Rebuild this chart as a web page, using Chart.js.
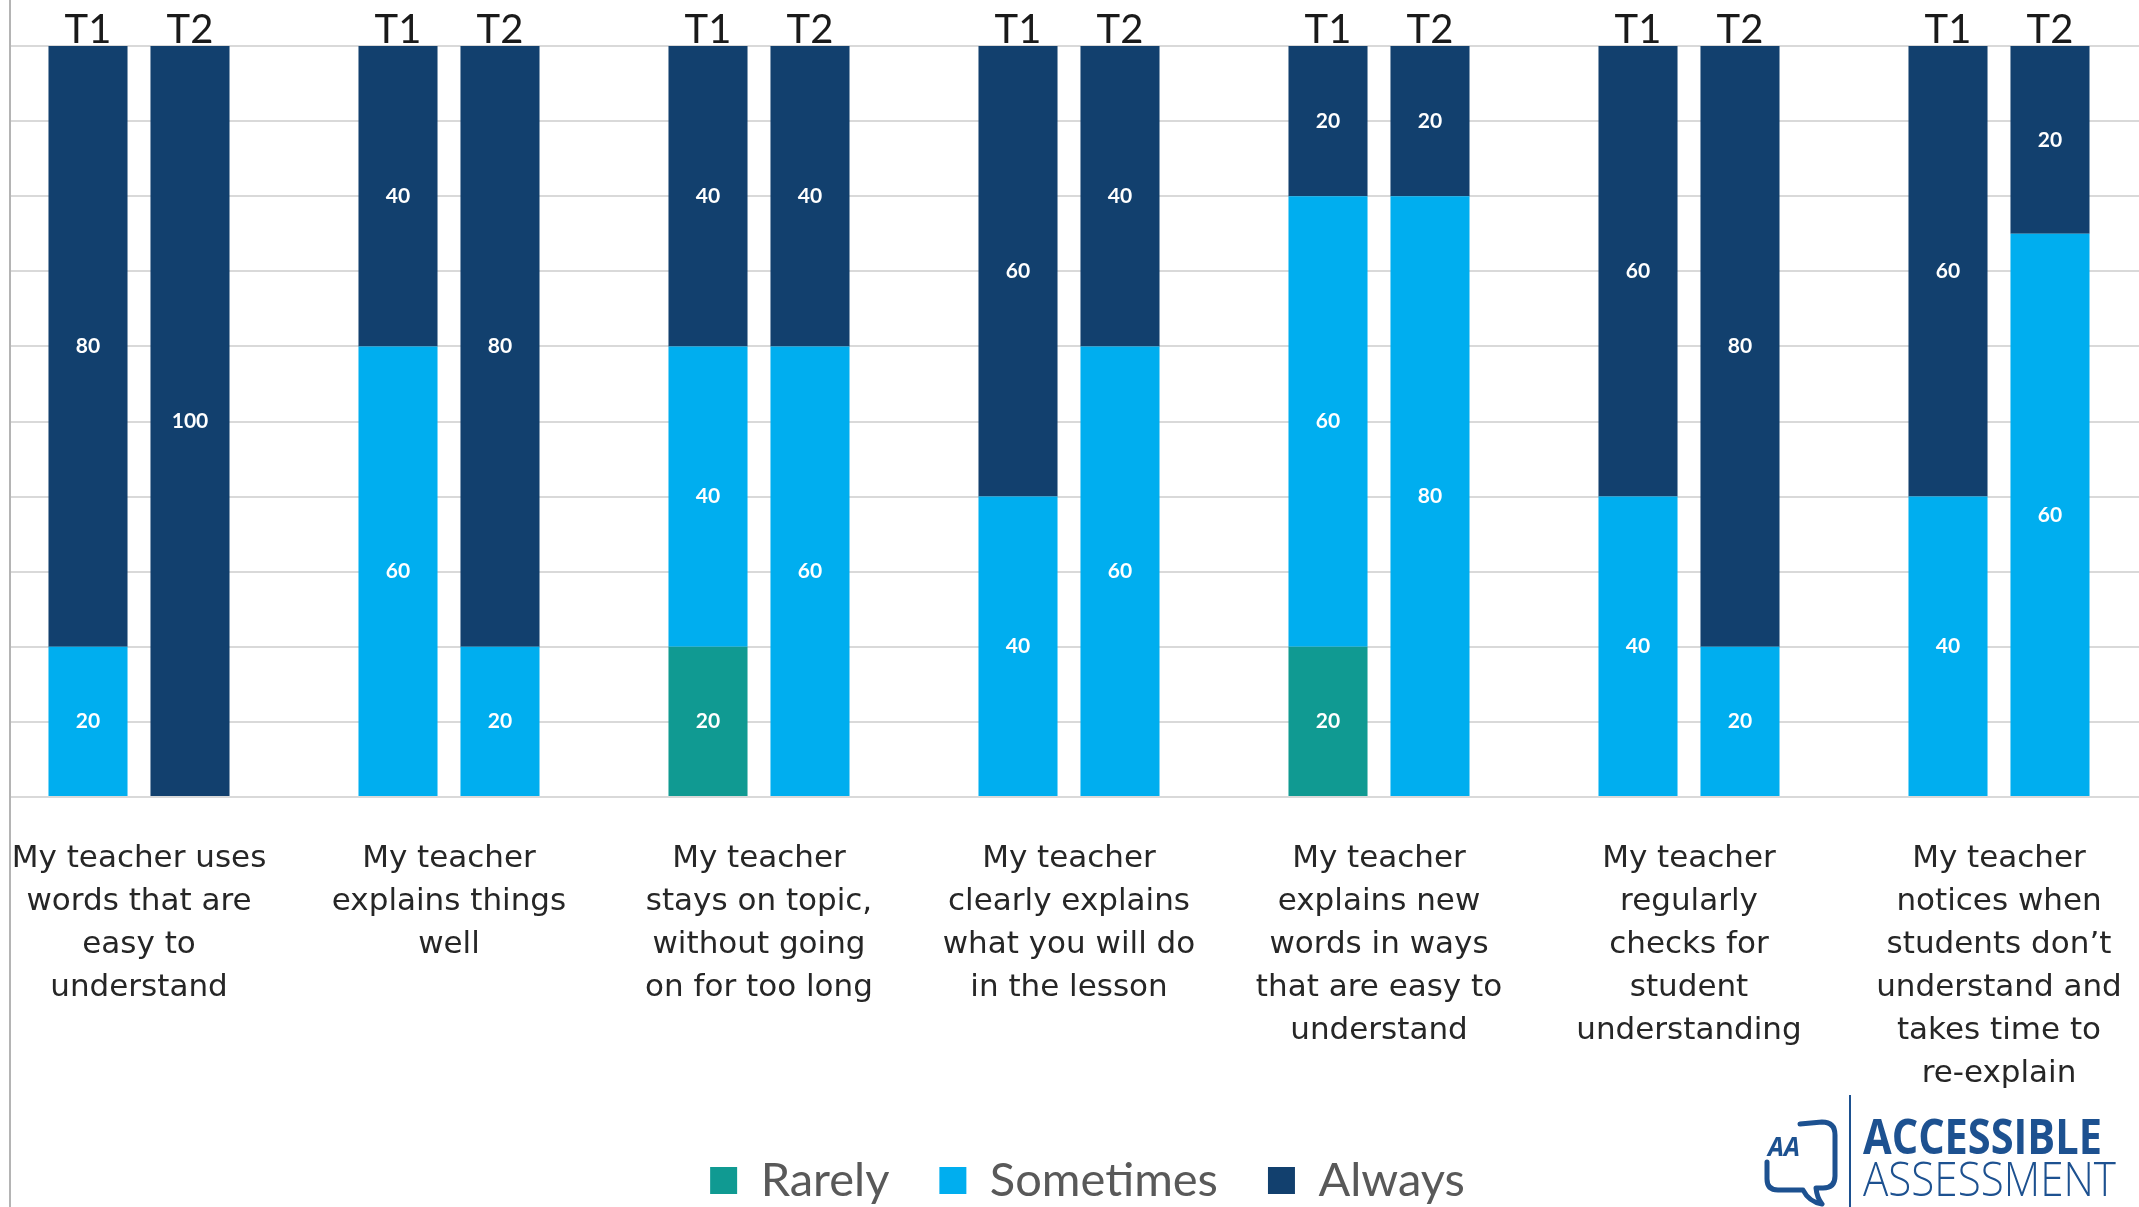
<!DOCTYPE html>
<html>
<head>
<meta charset="utf-8">
<script src="https://cdn.jsdelivr.net/npm/chart.js@4.4.1/dist/chart.umd.min.js"></script>
<style>
  html, body { margin: 0; padding: 0; background: #fff; }
  #page { position: relative; width: 2139px; height: 1207px; overflow: hidden; background: #fff; }
  /* chart is a bit wider than the picture: the first and last groups are cut at the edges */
  #wrap { position: absolute; left: -16px; top: 0; }
  #logo { position: absolute; left: 0; top: 0; }
</style>
</head>
<body>
<div id="page">
  <div id="wrap"><canvas id="chart" width="2207" height="1214"></canvas></div>
  <svg id="logo" width="2139" height="1207" viewBox="0 0 2139 1207">
    <path d="M1800 1124 L1822 1122 Q1835 1122 1835 1135 L1835 1176 Q1835 1188 1823 1188 L1816 1188 Q1817 1198 1822 1204 Q1809 1202 1803 1190 L1778 1190 Q1767 1190 1767 1179 L1767 1162"
          fill="none" stroke="#1d5190" stroke-width="5" stroke-linecap="round" stroke-linejoin="round"/>
    <text x="1768" y="1156" font-family="Open Sans" font-weight="700" font-style="italic" font-size="27" fill="#1d5190" textLength="32" lengthAdjust="spacingAndGlyphs">AA</text>
    <rect x="1849" y="1095" width="2" height="112" fill="#1d5190"/>
    <text x="1863" y="1154" font-family="Open Sans" font-weight="700" font-size="48" fill="#1d5190" textLength="239" lengthAdjust="spacingAndGlyphs">ACCESSIBLE</text>
    <text x="1863" y="1196" font-family="Open Sans" font-weight="300" font-size="47" fill="#1d5190" textLength="253" lengthAdjust="spacingAndGlyphs">ASSESSMENT</text>
  </svg>
</div>
<script>
const categories = [
  ['My teacher uses', 'words that are', 'easy to', 'understand'],
  ['My teacher', 'explains things', 'well'],
  ['My teacher', 'stays on topic,', 'without going', 'on for too long'],
  ['My teacher', 'clearly explains', 'what you will do', 'in the lesson'],
  ['My teacher', 'explains new', 'words in ways', 'that are easy to', 'understand'],
  ['My teacher', 'regularly', 'checks for', 'student', 'understanding'],
  ['My teacher', 'notices when', 'students don\u2019t', 'understand and', 'takes time to', 're-explain']
];
const terms = ['T1', 'T2'];
const responses = ['Rarely', 'Sometimes', 'Always'];
const colors = ['#109a92', '#00aeef', '#12406e'];

// counts shown on the bars
const rarelyT1 = [0, 0, 20, 0, 20, 0, 0];
const sometimesT1 = [20, 60, 40, 40, 60, 40, 40];
const alwaysT1 = [80, 40, 40, 60, 20, 60, 60];
const rarelyT2 = [0, 0, 0, 0, 0, 0, 0];
const sometimesT2 = [0, 20, 60, 60, 80, 20, 60];
const alwaysT2 = [100, 80, 40, 40, 20, 80, 20];

const series = {
  T1: [rarelyT1, sometimesT1, alwaysT1],
  T2: [rarelyT2, sometimesT2, alwaysT2]
};

// 100% stacked: each bar is scaled to its own total
const datasets = [];
terms.forEach(term => {
  const rows = series[term];
  const totals = categories.map((c, i) => rows.reduce((s, r) => s + r[i], 0));
  rows.forEach((row, k) => {
    datasets.push({
      label: responses[k],
      stack: term,
      counts: row,
      data: row.map((v, i) => totals[i] ? v / totals[i] * 100 : 0),
      backgroundColor: colors[k],
      borderWidth: 0
    });
  });
});

const framePlugin = {
  id: 'frame',
  beforeDatasetsDraw(chart) {
    const ctx = chart.ctx;
    const area = chart.chartArea;
    ctx.save();
    ctx.fillStyle = '#fff';
    ctx.fillRect(0, area.top - 2, 25, area.bottom - area.top + 4);
    ctx.strokeStyle = '#b4b4b4';
    ctx.lineWidth = 2;
    ctx.beginPath();
    ctx.moveTo(26, 0);
    ctx.lineTo(26, chart.height);
    ctx.stroke();
    ctx.restore();
  }
};

const barLabels = {
  id: 'barLabels',
  afterDatasetsDraw(chart) {
    const ctx = chart.ctx;
    const yTop = chart.scales.y.getPixelForValue(100);
    ctx.save();
    ctx.textAlign = 'center';
    chart.data.datasets.forEach((ds, di) => {
      const meta = chart.getDatasetMeta(di);
      meta.data.forEach((bar, i) => {
        const v = ds.counts[i];
        if (v) {
          ctx.font = 'bold 21px Lato';
          ctx.fillStyle = '#ffffff';
          ctx.textBaseline = 'middle';
          ctx.fillText(String(v), bar.x, (bar.y + bar.base) / 2);
        }
        if (ds.label === 'Always') {
          ctx.font = '40px Lato';
          ctx.fillStyle = '#1a1a1a';
          ctx.textBaseline = 'alphabetic';
          ctx.fillText(ds.stack, bar.x, yTop - 3);
        }
      });
    });
    ctx.restore();
  }
};

new Chart(document.getElementById('chart'), {
  type: 'bar',
  data: { labels: categories, datasets: datasets },
  options: {
    responsive: false,
    animation: false,
    devicePixelRatio: 1,
    layout: { padding: { top: 46, left: 0, right: 0, bottom: 0 } },
    datasets: { bar: { categoryPercentage: 0.658, barPercentage: 0.775 } },
    scales: {
      x: {
        stacked: true,
        grid: { display: false, drawTicks: false },
        border: { display: false },
        ticks: {
          autoSkip: false,
          maxRotation: 0,
          padding: 40,
          color: '#262626',
          font: { family: 'DejaVu Sans', size: 31, lineHeight: '43px' }
        },
        afterFit(scale) {
          scale.height = scale.chart.height - scale.chart.legend.height - 797;
          scale.paddingLeft = 0;
          scale.paddingRight = 0;
        }
      },
      y: {
        position: 'right',
        stacked: true,
        min: 0,
        max: 100,
        ticks: { display: false, stepSize: 10 },
        grid: { color: '#d9d9d9', lineWidth: 2, drawTicks: false },
        border: { display: false },
        afterFit(scale) {
          scale.width = 37;
        }
      }
    },
    plugins: {
      legend: {
        position: 'bottom',
        labels: {
          filter: (item, data) => data.datasets[item.datasetIndex].stack === 'T1',
          boxWidth: 27,
          boxHeight: 27,
          padding: 50,
          color: '#595959',
          font: { family: 'Lato', size: 47 }
        }
      },
      tooltip: { enabled: false }
    }
  },
  plugins: [framePlugin, barLabels]
});
</script>
</body>
</html>
